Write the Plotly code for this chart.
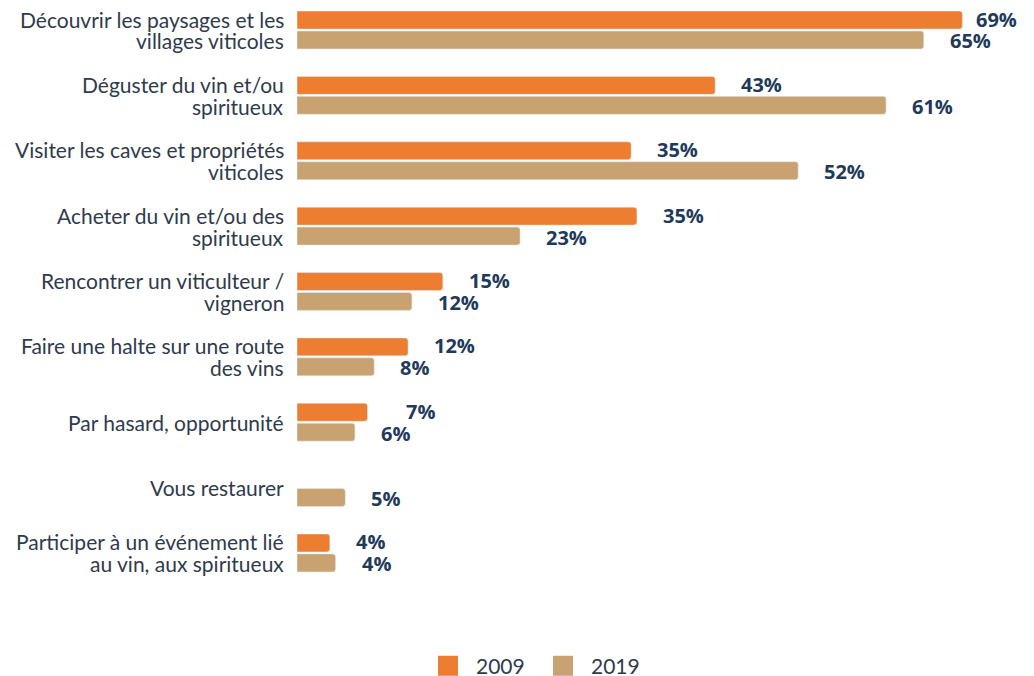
import plotly.graph_objects as go

categories = [
    "Découvrir les paysages et les<br>villages viticoles",
    "Déguster du vin et/ou<br>spiritueux",
    "Visiter les caves et propriétés<br>viticoles",
    "Acheter du vin et/ou des<br>spiritueux",
    "Rencontrer un viticulteur /<br>vigneron",
    "Faire une halte sur une route<br>des vins",
    "Par hasard, opportunité",
    "Vous restaurer",
    "Participer à un événement lié<br>au vin, aux spiritueux",
]
values_2009 = [68.9, 43.3, 34.6, 35.2, 15.1, 11.5, 7.3, None, 3.4]
values_2019 = [64.9, 61.0, 51.9, 23.1, 11.9, 8.0, 6.0, 5.0, 4.0]
labels_2009 = ["69%", "43%", "35%", "35%", "15%", "12%", "7%", "", "4%"]
labels_2019 = ["65%", "61%", "52%", "23%", "12%", "8%", "6%", "5%", "4%"]

C2009 = "#ED7D31"
C2019 = "#C9A271"
NAVY = "#1F3A5A"
TXT = "#2E3B4C"
HALF = 0.168  # half distance between the two bars of a group, in category units

fig = go.Figure()
fig.add_trace(go.Bar(y=categories, x=values_2009, orientation="h", name="2009",
                     offsetgroup="a", marker=dict(color=C2009, cornerradius=3),
                     showlegend=False))
fig.add_trace(go.Bar(y=categories, x=values_2019, orientation="h", name="2019",
                     offsetgroup="b", marker=dict(color=C2019, cornerradius=3),
                     showlegend=False))
# legend-only entries with larger square swatches
for nm, col in (("2009", C2009), ("2019", C2019)):
    fig.add_trace(go.Scatter(x=[None], y=[None], mode="markers", name=nm,
                             marker=dict(symbol="square", size=16, color=col,
                                         line=dict(color=col, width=4)),
                             showlegend=True, hoverinfo="skip"))

annotations = []
# category labels, one annotation per text line
for i, cat in enumerate(categories):
    lines = cat.split("<br>")
    pos = [0.0] if len(lines) == 1 else [-HALF, HALF]
    for ln, off in zip(lines, pos):
        annotations.append(dict(
            x=0, y=i + off, xref="x", yref="y", text=ln, showarrow=False,
            xanchor="right", yanchor="middle", xshift=-11,
            font=dict(family="Lato", size=21, color=TXT)))

# value labels
for i, cat in enumerate(categories):
    for v, lab, off in ((values_2009[i], labels_2009[i], -HALF),
                        (values_2019[i], labels_2019[i], HALF)):
        if v is None or not lab:
            continue
        s = 24
        if lab == "69%":
            s = 12
        if lab == "7%":
            s = 36
        annotations.append(dict(
            x=v, y=i + off, xref="x", yref="y", text=f"<b>{lab}</b>",
            showarrow=False, xanchor="left", yanchor="middle", xshift=s,
            font=dict(family="Open Sans", size=20, color=NAVY)))

fig.update_layout(
    width=1034, height=676,
    margin=dict(l=297, r=4, t=0, b=76, autoexpand=False),
    paper_bgcolor="white", plot_bgcolor="white",
    barmode="group", bargap=0.39, bargroupgap=0.1,
    font=dict(family="Lato", size=20, color=TXT),
    annotations=annotations,
    legend=dict(orientation="h", x=0.1678, xanchor="left", xref="paper",
                y=-0.11, yanchor="middle",
                font=dict(family="Lato", size=21, color=TXT),
                itemwidth=46, itemsizing="trace", traceorder="normal",
                entrywidth=54),
)
fig.update_xaxes(range=[0, 75.9], visible=False)
fig.update_yaxes(type="category", categoryorder="array", categoryarray=categories,
                 range=[8.72, -0.459], showgrid=False, zeroline=False, showline=False,
                 ticks="", showticklabels=False, automargin=False)

fig.write_html("out.html", config={"displayModeBar": False},
               post_script="document.body.style.margin='0';")
